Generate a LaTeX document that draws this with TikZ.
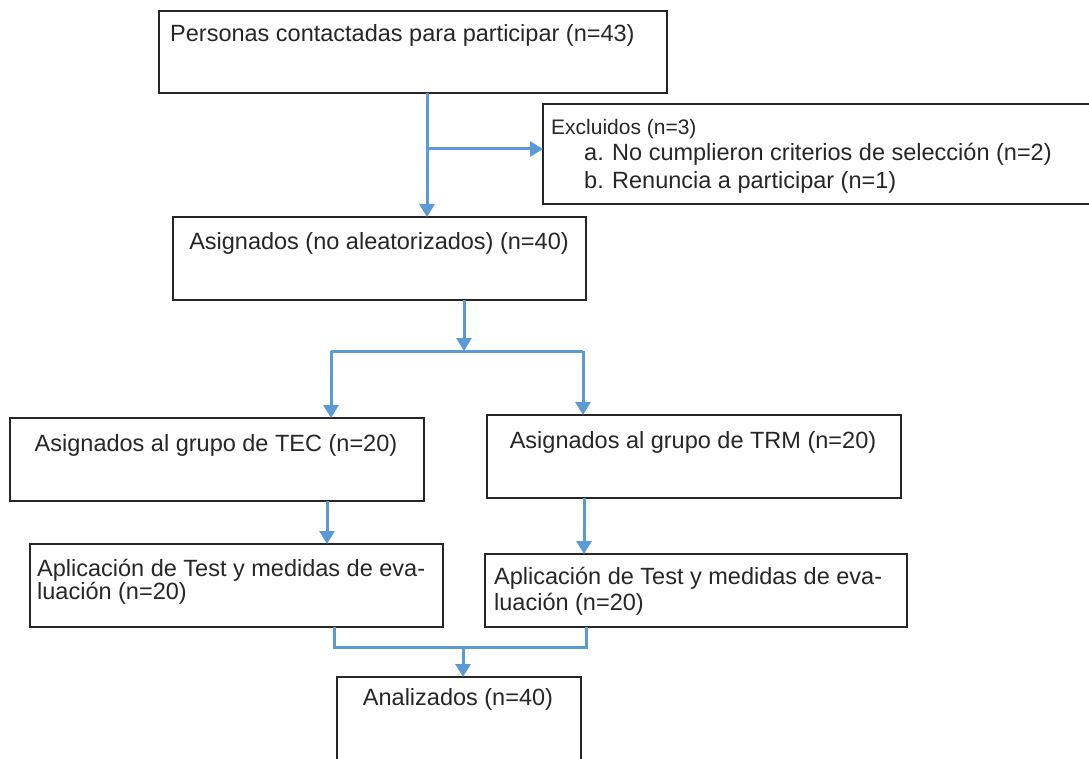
\documentclass[tikz,border=0pt]{standalone}
\usepackage{fontspec}
\setmainfont{Liberation Sans}
\usetikzlibrary{arrows.meta}

\definecolor{azul}{RGB}{91,155,213}
\definecolor{borde}{RGB}{38,38,38}

\tikzset{
	caja/.style={draw=borde, line width=1.3pt, anchor=north west, inner sep=0pt, outer sep=0pt},
	texto/.style={text=borde, font=\fontsize{23.5}{27}\selectfont, inner sep=0pt},
	textochico/.style={texto, font=\fontsize{21}{25}\selectfont},
	linea/.style={draw=azul, line width=3pt},
	flecha/.style={linea, -{Triangle[width=15pt,length=13pt]}},
}

\begin{document}
\begin{tikzpicture}[x=1pt,y=-1pt]
		\useasboundingbox (0,0) rectangle (1089,759);
		
		% cajas
		\node[caja, minimum width=508pt, minimum height=82pt] (contactados) at (159,11) {};
		\node[caja, minimum width=548pt, minimum height=100pt] (excluidos) at (543,104) {};
		\node[caja, minimum width=413pt, minimum height=83pt] (asignados) at (173,217) {};
		\node[caja, minimum width=414pt, minimum height=83pt] (grupoTEC) at (10,418) {};
		\node[caja, minimum width=414pt, minimum height=83pt] (grupoTRM) at (487,415) {};
		\node[caja, minimum width=413pt, minimum height=83pt] (evalTEC) at (30,544) {};
		\node[caja, minimum width=422pt, minimum height=73pt] (evalTRM) at (485,554) {};
		\node[caja, minimum width=244pt, minimum height=100pt] (analizados) at (337,677) {};
		
		% textos
		\node[texto, anchor=base west] (tContactados) at (170,42) {Personas contactadas para participar (n=43)};
		\node[textochico, anchor=base west] (tExcluidos) at (551,135) {Excluidos (n=3)};
		\node[texto, anchor=base west] (tItemA) at (584,161) {a.};
		\node[texto, anchor=base west] (tCriterios) at (612,161) {No cumplieron criterios de selección (n=2)};
		\node[texto, anchor=base west] (tItemB) at (584,189) {b.};
		\node[texto, anchor=base west] (tRenuncia) at (612,189) {Renuncia a participar (n=1)};
		\node[texto, anchor=base] (tAsignados) at (379,250) {Asignados (no aleatorizados) (n=40)};
		\node[texto, anchor=base] (tTEC) at (216,451) {Asignados al grupo de TEC (n=20)};
		\node[texto, anchor=base] (tTRM) at (693,448) {Asignados al grupo de TRM (n=20)};
		\node[texto, anchor=base west] (tEvalTEC1) at (37,576) {Aplicación de Test y medidas de eva-};
		\node[texto, anchor=base west] (tEvalTEC2) at (37,599) {luación (n=20)};
		\node[texto, anchor=base west] (tEvalTRM1) at (494,584) {Aplicación de Test y medidas de eva-};
		\node[texto, anchor=base west] (tEvalTRM2) at (494,610) {luación (n=20)};
		\node[texto, anchor=base] (tAnalizados) at (458,705) {Analizados (n=40)};
		
		% puntos de union
		\coordinate (rama) at (427,149);
		\coordinate (division) at (464,351);
		\coordinate (divIzq) at (331,351);
		\coordinate (divDer) at (583,351);
		\coordinate (bajaTEC) at (327,520);
		\coordinate (bajaTRM) at (584,520);
		\coordinate (unionIzq) at (334,647);
		\coordinate (unionDer) at (586,647);
		\coordinate (union) at (463,647);
		
		% conectores
		\draw[flecha] (contactados.south -| rama) -- (asignados.north -| rama);
		\draw[flecha] (rama) -- (rama -| excluidos.west);
		\draw[flecha] (asignados.south -| division) -- (division);
		\draw[linea] (divIzq) -- (divDer);
		\draw[flecha] (divIzq) -- (divIzq |- grupoTEC.north);
		\draw[flecha] (divDer) -- (divDer |- grupoTRM.north);
		\draw[flecha] (grupoTEC.south -| bajaTEC) -- (evalTEC.north -| bajaTEC);
		\draw[flecha] (grupoTRM.south -| bajaTRM) -- (evalTRM.north -| bajaTRM);
		\draw[linea] (evalTEC.south -| unionIzq) -- (unionIzq) -- (unionDer) -- (evalTRM.south -| unionDer);
		\draw[flecha] (union) -- (union |- analizados.north);
	\end{tikzpicture}
\end{document}
